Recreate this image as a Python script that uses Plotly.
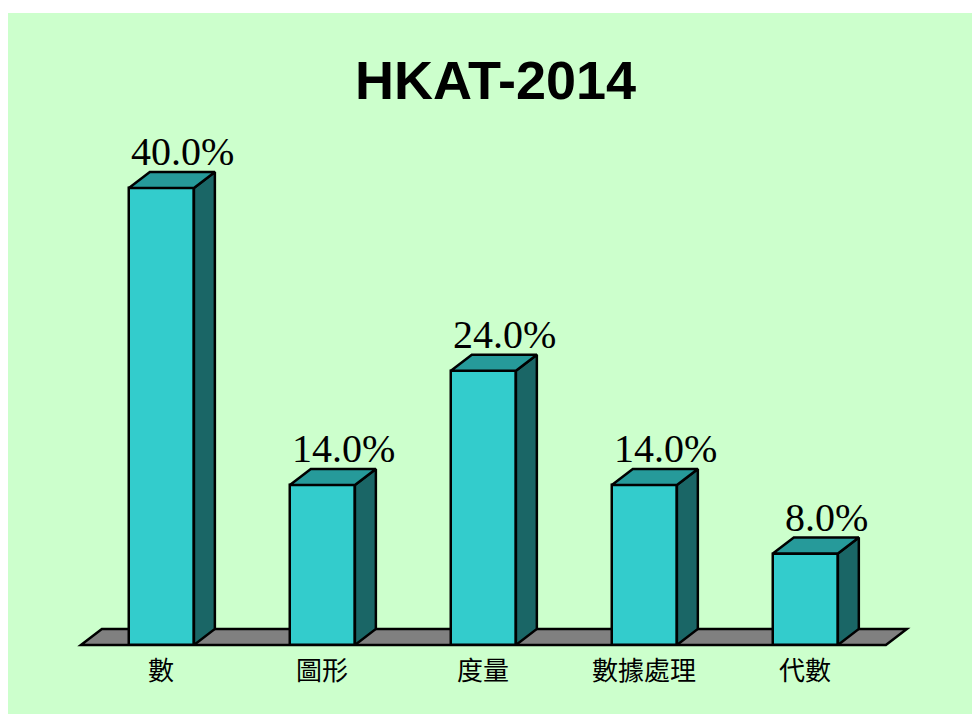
import plotly.graph_objects as go

categories = ["數", "圖形", "度量", "數據處理", "代數"]
percentages = [40.0, 14.0, 24.0, 14.0, 8.0]
value_labels = ["40.0%", "14.0%", "24.0%", "14.0%", "8.0%"]

FRONT = "#33CCCC"
TOP = "#269A9A"
SIDE = "#1A6666"
FLOOR = "#808080"
BG = "#CCFFCC"

bar_width = 0.404
depth_x = 0.13   # fake 3D depth, in x units
depth_y = 1.4    # fake 3D depth, in percent units

positions = list(range(len(categories)))

fig = go.Figure()

# front faces
fig.add_trace(go.Bar(
    x=positions, y=percentages, width=bar_width,
    marker=dict(color=FRONT, line=dict(color="black", width=2.5)),
    hoverinfo="skip", showlegend=False
))

# top and side faces, computed from the values
for pos, val in zip(positions, percentages):
    x0 = pos - bar_width / 2
    x1 = pos + bar_width / 2
    fig.add_trace(go.Scatter(
        x=[x1, x1 + depth_x, x1 + depth_x, x1, x1],
        y=[0, depth_y, val + depth_y, val, 0],
        fill="toself", fillcolor=SIDE, mode="lines",
        line=dict(color="black", width=2.5),
        hoverinfo="skip", showlegend=False
    ))
    fig.add_trace(go.Scatter(
        x=[x0, x0 + depth_x, x1 + depth_x, x1, x0],
        y=[val, val + depth_y, val + depth_y, val, val],
        fill="toself", fillcolor=TOP, mode="lines",
        line=dict(color="black", width=2.5),
        hoverinfo="skip", showlegend=False
    ))

# floor below the bars
left = positions[0] - 0.5
right = positions[-1] + 0.5
fig.add_shape(
    type="path", layer="below", xref="x", yref="y",
    path=f"M {left},0 L {right},0 L {right + depth_x},{depth_y} L {left + depth_x},{depth_y} Z",
    fillcolor=FLOOR, line=dict(color="black", width=2.5)
)

# value labels
for pos, val, lab in zip(positions, percentages, value_labels):
    fig.add_annotation(
        x=pos + depth_x, y=val + depth_y, text=lab, showarrow=False,
        xanchor="center", yanchor="bottom", yshift=-4,
        font=dict(family="Times New Roman, Liberation Serif", size=40, color="black")
    )

# category labels
for pos, cat in zip(positions, categories):
    fig.add_annotation(
        x=pos, y=0, text=cat, showarrow=False,
        xanchor="center", yanchor="top", yshift=-3,
        font=dict(family="Noto Sans CJK TC", size=26, color="black")
    )

fig.add_annotation(
    x=0.506, y=0.9044, xref="paper", yref="paper",
    text="<b>HKAT-2014</b>", showarrow=False,
    xanchor="center", yanchor="middle",
    font=dict(family="Arial, Liberation Sans", size=54, color="black")
)

fig.update_xaxes(range=[-0.953, 5.035], visible=False, fixedrange=True)
fig.update_yaxes(range=[-6.04, 55.32], visible=False, fixedrange=True)
fig.update_layout(
    width=972, height=714,
    margin=dict(l=8, r=0, t=13, b=0),
    paper_bgcolor="white",
    plot_bgcolor=BG,
    bargap=0,
)

# no page margin / scrollbars, so the green panel reaches the window edge
fig.write_html(
    "out.html",
    config={"displayModeBar": False},
    post_script="document.body.style.margin='0';document.body.style.overflow='hidden';",
)
